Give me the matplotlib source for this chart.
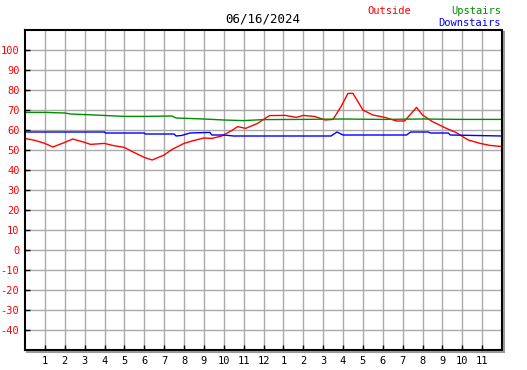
import matplotlib
matplotlib.use("Agg")
import matplotlib.pyplot as plt
from matplotlib.lines import Line2D

# hours since midnight, temperatures in F
out_h = [0.0, 0.5, 1.0, 1.4, 2.0, 2.4, 3.0, 3.3, 4.0, 4.4, 5.0, 5.4, 6.0, 6.4, 7.0, 7.4,
         8.0, 8.4, 9.0, 9.4, 9.9, 10.4, 10.7, 11.1, 11.7, 12.3, 13.1, 13.65, 14.0, 14.6,
         15.1, 15.5, 15.9, 16.25, 16.5, 16.75, 17.0, 17.5, 18.1, 18.7, 19.1, 19.7, 20.0,
         20.5, 21.2, 21.7, 22.3, 22.9, 23.4, 24.0]
out_v = [55.8, 54.8, 53.3, 51.5, 53.8, 55.5, 53.8, 52.8, 53.3, 52.3, 51.3, 49.2, 46.3, 45.0,
         47.5, 50.3, 53.3, 54.5, 56.0, 55.8, 57.0, 59.7, 61.7, 60.8, 63.3, 67.2, 67.3, 66.3,
         67.3, 66.7, 65.0, 65.3, 71.7, 78.3, 78.3, 74.2, 70.0, 67.5, 66.3, 64.5, 64.5, 71.3,
         67.5, 64.2, 60.8, 58.7, 55.0, 53.3, 52.3, 51.7]

up_h = [0.0, 1.0, 2.0, 2.3, 3.5, 5.0, 6.0, 7.4, 7.6, 9.0, 10.0, 11.0, 12.0, 14.0, 16.0,
        18.0, 20.0, 22.0, 24.0]
up_v = [68.8, 68.8, 68.5, 68.0, 67.5, 66.8, 66.8, 67.0, 66.0, 65.5, 65.0, 64.7, 65.2, 65.3,
        65.5, 65.3, 65.5, 65.3, 65.3]

down_h = [0.0, 4.0, 4.05, 6.0, 6.05, 7.5, 7.6, 7.9, 8.3, 9.3, 9.4, 10.0, 10.5, 15.4, 15.7,
          16.0, 19.2, 19.4, 20.3, 20.4, 21.3, 21.4, 24.0]
down_v = [59.0, 59.0, 58.5, 58.5, 58.0, 58.0, 57.0, 57.3, 58.5, 58.8, 57.5, 57.5, 57.0, 57.0,
          59.0, 57.5, 57.5, 59.0, 59.0, 58.5, 58.5, 57.5, 57.0]

x_labels = [str(h) for h in list(range(1, 13)) + list(range(1, 12))]
y_ticks = list(range(-40, 101, 10))

plt.rcParams['font.family'] = 'DejaVu Sans Mono'
plt.rcParams['font.size'] = 7.5

fig = plt.figure(figsize=(5.27, 3.70), dpi=100)
W, H = 527.0, 370.0
ax = fig.add_axes([25 / W, 20 / H, 477 / W, 320 / H])

ax.plot(out_h, out_v, color='#ff0000', lw=1.0)
ax.plot(up_h, up_v, color='#008c00', lw=1.0)
ax.plot(down_h, down_v, color='#0000ff', lw=1.0)

ax.set_xlim(0, 24)
ax.set_ylim(-50, 110)
ax.set_xticks(range(1, 24))
ax.set_xticklabels(x_labels)
ax.set_yticks(y_ticks)
ax.set_yticklabels([str(v) for v in y_ticks], color='#ff0000')
ax.tick_params(direction='in', length=3.5, width=1, colors='black', pad=4)
for lab in ax.get_yticklabels():
    lab.set_color('#ff0000')
ax.grid(True, color='#aaaaaa', lw=1)
ax.set_axisbelow(True)
for s in ax.spines.values():
    s.set_linewidth(1.5)
    s.set_zorder(5)

# drop shadow on right and bottom
fig.add_artist(Line2D([27 / W, 504 / W], [18 / H, 18 / H], color='#999999', lw=1.5))
fig.add_artist(Line2D([504 / W, 504 / W], [18 / H, 338 / H], color='#999999', lw=1.5))

fig.text(263 / W, 1 - 19 / H, '06/16/2024', ha='center', va='center', fontsize=9)
fig.text(411 / W, 1 - 11 / H, 'Outside', ha='right', va='center', color='#ff0000')
fig.text(501 / W, 1 - 11 / H, 'Upstairs', ha='right', va='center', color='#008c00')
fig.text(501 / W, 1 - 23 / H, 'Downstairs', ha='right', va='center', color='#0000ff')

fig.savefig('out.png', dpi=100)
